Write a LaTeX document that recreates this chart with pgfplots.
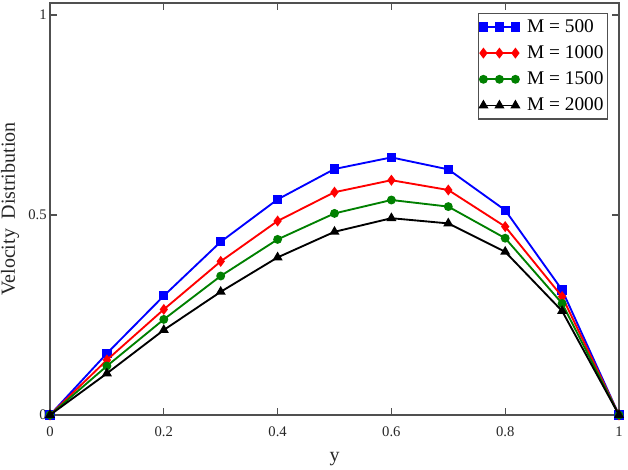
\documentclass[border=0pt]{standalone}
\usepackage{pgfplots}
\pgfplotsset{compat=1.18}
\usepackage{fontspec}
\setmainfont{Liberation Serif}
\definecolor{axgray}{RGB}{80,80,80}
\definecolor{mgreen}{RGB}{0,128,0}
\begin{document}
\begin{tikzpicture}
\begin{axis}[
  name=ax,
  scale only axis,
  width=426.75pt, height=309pt,
  xmin=0, xmax=1, ymin=0, ymax=1.03,
  xtick={0,0.2,0.4,0.6,0.8,1},
  ytick={0,0.5,1},
  xticklabels={0,0.2,0.4,0.6,0.8,1},
  yticklabels={0,0.5,1},
  tick align=inside,
  major tick length=5pt,
  minor tick num=0,
  axis line style={axgray, line width=1.1pt},
  every tick/.style={axgray, line width=0.9pt},
  tick label style={font=\fontsize{11}{13}\selectfont, text=black!85},
  yticklabel style={xshift=1pt},
  xticklabel style={yshift=-5pt},
  xlabel={y},
  ylabel={Velocity\ \ Distribution},
  label style={font=\fontsize{15}{18}\selectfont, text=black!85},
  xlabel style={at={(rel axis cs:0.5,-0.108)}, anchor=center},
  ylabel style={at={(rel axis cs:-0.0703,0.5)}, anchor=center},
  clip mode=individual,
  legend style={at={(rel axis cs:0.981,0.976)}, anchor=north east,
    draw=axgray, line width=0.9pt, font=\fontsize{14.5}{17}\selectfont,
    row sep=4.5pt, column sep=4pt, inner xsep=1pt, inner ysep=2.5pt},
  legend cell align=left,
  legend image code/.code={\draw[mark repeat=1] plot coordinates {(0pt,0pt)(12pt,0pt)(24pt,0pt)};},
]
\addplot[blue, line width=1.4pt, mark=square*, mark size=2.8pt, mark options={solid}] coordinates {
(0,0) (0.1,0.154) (0.2,0.298) (0.3,0.433) (0.4,0.539) (0.5,0.615) (0.6,0.644) (0.7,0.614) (0.8,0.512) (0.9,0.3125) (1,0)};
\addlegendentry{M = 500\hspace{5pt}}
\addplot[red, line width=1.4pt, mark=diamond*, mark size=3pt, mark options={solid}] coordinates {
(0,0) (0.1,0.1375) (0.2,0.264) (0.3,0.384) (0.4,0.485) (0.5,0.557) (0.6,0.587) (0.7,0.5625) (0.8,0.471) (0.9,0.296) (1,0)};
\addlegendentry{M = 1000\hspace{5pt}}
\addplot[mgreen, line width=1.4pt, mark=*, mark size=2.6pt, mark options={solid}] coordinates {
(0,0) (0.1,0.1225) (0.2,0.239) (0.3,0.3475) (0.4,0.439) (0.5,0.504) (0.6,0.5375) (0.7,0.521) (0.8,0.442) (0.9,0.279) (1,0)};
\addlegendentry{M = 1500\hspace{5pt}}
\addplot[black, line width=1.4pt, mark=triangle*, mark size=3pt, mark options={solid}] coordinates {
(0,0) (0.1,0.104) (0.2,0.2125) (0.3,0.308) (0.4,0.394) (0.5,0.458) (0.6,0.492) (0.7,0.479) (0.8,0.408) (0.9,0.26) (1,0)};
\addlegendentry{M = 2000\hspace{5pt}}
\end{axis}
\pgfresetboundingbox
\path ([shift={(-37.5pt,-40.5pt)}]ax.south west) rectangle ([shift={(6.75pt,2.25pt)}]ax.north east);
\end{tikzpicture}
\end{document}
